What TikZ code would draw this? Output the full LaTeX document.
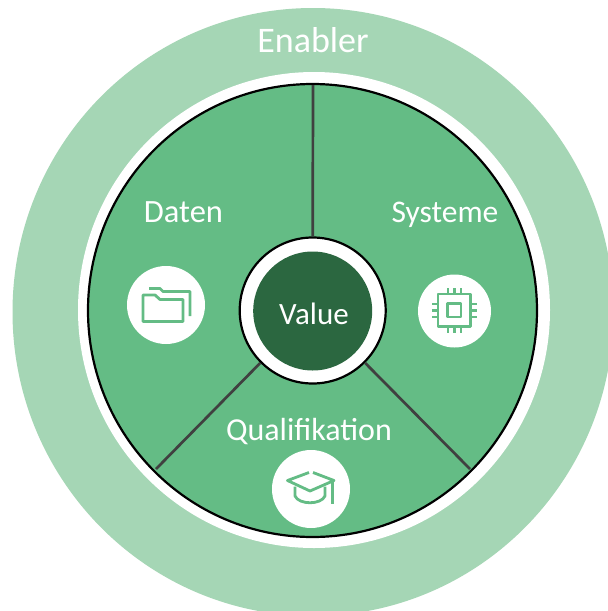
\documentclass[tikz,border=0pt]{standalone}
\usepackage{fontspec}
\usetikzlibrary{shapes.geometric}
\setmainfont{Carlito}
\definecolor{ringlight}{HTML}{A5D6B5}
\definecolor{ringmid}{HTML}{64BC85}
\definecolor{ringdark}{HTML}{2B6740}
\definecolor{spoke}{HTML}{404040}
\tikzset{
  disc/.style={circle,inner sep=0pt,minimum size=#1},
  oval/.style 2 args={ellipse,inner sep=0pt,minimum width=#1,minimum height=#2},
  label/.style={text=white,inner sep=0pt,anchor=base},
  iconline/.style={draw=ringmid,line width=2.8pt,line join=round,fill=none},
  spokeline/.style={draw=spoke,line width=2.7pt},
}
\begin{document}
\begin{tikzpicture}[x=1pt,y=-1pt]
\useasboundingbox (0,0) rectangle (608,611);
\clip (0,0) rectangle (608,611);
\fill[white] (0,0) rectangle (608,611);
\node[oval={601pt}{608pt},fill=ringlight] (outer) at (313,312) {};
\node[oval={472pt}{476pt},fill=white] (gap) at (314,310) {};
\node[oval={449pt}{453pt},fill=ringmid,draw=black,line width=2.2pt] (sectors) at (312.5,310.5) {};
\coordinate (topEnd) at (313,85);
\coordinate (leftEnd) at (156,469);
\coordinate (rightEnd) at (470,469);
\node[disc=146pt,fill=white,draw=black,line width=2.2pt] (hub) at (312.7,310.5) {};
\draw[spokeline] (hub.90) -- (topEnd);
\draw[spokeline] (hub.225) -- (leftEnd);
\draw[spokeline] (hub.-45) -- (rightEnd);
\node[disc=119pt,fill=ringdark] (value) at (312.7,311) {};
\node[label,font=\fontsize{31}{34}\selectfont] (valueText) at (314,324.5) {Value};
\node[label,font=\fontsize{36}{40}\selectfont] (enabler) at (313,52) {Enabler};
\node[label,font=\fontsize{32.5}{34}\selectfont] (daten) at (183.5,222) {Daten};
\node[label,font=\fontsize{31.5}{34}\selectfont] (systeme) at (445,222) {Systeme};
\node[label,font=\fontsize{32}{34}\selectfont] (quali) at (309,440) {Qualifikation};
\node[disc=78pt,fill=white] (folderDisc) at (166,305) {};
\node[disc=73pt,fill=white] (chipDisc) at (454.5,311) {};
\node[disc=78pt,fill=white] (capDisc) at (311,489) {};
% folder icon
\draw[iconline] (143,295) -- (155,295) -- (160,299.5) -- (183,299.5) -- (183,321.5) -- (143,321.5) -- cycle;
\draw[iconline] (149,288.5) -- (160,288.5) -- (163,291.5) -- (190,291.5) -- (190,316);
% chip icon
\draw[iconline] (438,294) rectangle (470.5,326.5);
\draw[iconline] (447.5,303.5) rectangle (461,317);
\foreach \p in {448,454.5,461}{
  \draw[iconline] (\p,288) -- (\p,294);
  \draw[iconline] (\p,326.5) -- (\p,333);
}
\foreach \p in {304,310.5,317}{
  \draw[iconline] (432,\p) -- (438,\p);
  \draw[iconline] (470.5,\p) -- (477,\p);
}
% cap icon
\draw[iconline] (309,472.5) -- (287.5,480.5) -- (310,491) -- (334,480.5) -- (313,472.5);
\draw[iconline] (332.5,481.5) -- (332.5,504);
\draw[iconline] (295,486.5) -- (295,496) .. controls (299,505) and (321,505) .. (325,496) -- (325,486.5);
\end{tikzpicture}
\end{document}
